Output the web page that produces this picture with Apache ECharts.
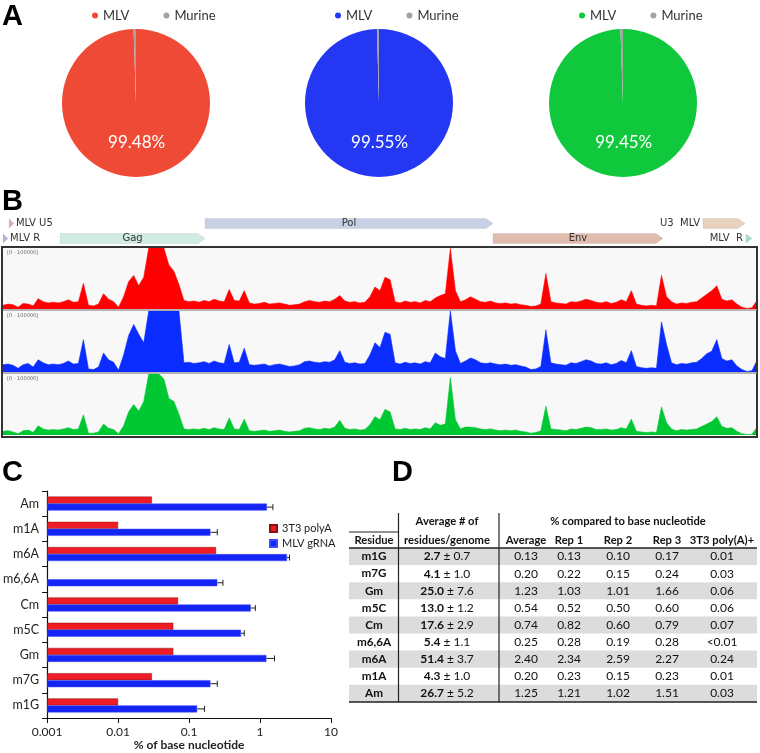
<!DOCTYPE html>
<html>
<head>
    <meta charset="utf-8">
    <script src="https://cdn.jsdelivr.net/npm/echarts@6/dist/echarts.min.js"></script>
    <style>
        html, body { margin: 0; padding: 0; background: #fff; }
    </style>
</head>
<body>
<div id="main" style="width: 760px;height:753px"></div>

<script type="text/javascript">
    // ---- A: read-mapping pies ----
    var pieMLV = [99.48, 99.55, 99.45];
    var pieMurine = [0.52, 0.45, 0.55];

    // ---- B: coverage tracks, % of 100000 scale, one value per 55 bp bin ----
    var binSize = 55;
    var covRed = [6,8,7,3,9,8,5,17,12,10,11,10,12,15,11,12,42,6,5,8,25,16,12,3,20,45,55,38,52,100,
        100,100,100,72,62,40,14,12,13,11,14,12,16,13,12,32,14,13,30,10,8,9,11,8,9,10,8,6,7,8,
        12,14,12,11,13,12,16,22,13,11,12,10,11,20,36,30,52,48,12,10,13,11,12,10,14,12,18,22,25,99,
        30,12,15,20,16,12,11,13,10,9,10,8,9,7,6,4,5,8,58,12,10,9,8,12,11,13,16,14,11,10,
        12,9,11,15,12,30,8,6,5,6,5,55,20,12,8,10,9,11,12,18,24,30,38,16,13,15,8,3,1,2,14];
    var covBlue = [12,13,11,6,12,14,8,20,15,12,13,12,14,18,13,14,53,5,4,8,31,20,16,3,28,60,78,62,48,100,
        100,100,100,100,100,100,15,16,14,15,17,14,18,15,14,45,15,16,39,12,11,12,13,10,12,13,11,9,10,12,
        17,18,16,15,17,16,20,35,16,14,15,13,14,28,48,40,65,62,15,13,16,14,15,13,17,15,31,25,22,100,
        35,14,18,23,20,15,14,15,13,12,13,11,12,10,8,4,5,9,69,15,13,12,11,15,14,17,20,18,14,13,
        15,12,14,19,15,35,9,7,6,7,6,82,45,15,12,14,13,15,16,22,30,34,53,22,18,20,10,4,1,2,19];
    var covGreen = [6,7,5,2,7,8,4,15,10,8,9,8,10,12,9,10,33,3,3,5,18,11,9,2,15,38,50,39,55,100,
        100,100,92,60,55,34,10,9,10,9,11,9,12,10,9,28,10,9,26,7,6,7,8,6,7,8,6,5,6,7,
        11,12,10,9,11,10,13,24,11,9,10,8,9,17,30,25,42,38,10,9,11,9,10,9,12,10,20,16,18,94,
        25,10,13,13,12,10,9,10,8,7,8,7,8,6,5,3,4,7,47,10,9,8,7,10,9,11,13,12,9,9,
        10,8,9,12,10,26,6,5,4,5,4,46,20,10,7,9,8,9,10,14,18,22,30,14,11,12,6,2,1,1,13];

    // genome features (bp)
    var geneNames = ['MLV R', 'MLV U5', 'Gag', 'Pol', 'Env', 'U3  MLV', 'MLV  R'];
    var geneStart = [0, 66, 624, 2210, 5361, 7659, 8129];
    var geneEnd = [55, 120, 2210, 5361, 7221, 8118, 8195];
    var geneRow = [1, 0, 1, 0, 1, 0, 1];

    // ---- C / D: modified nucleosides ----
    var residues = ['m1G', 'm7G', 'Gm', 'm5C', 'Cm', 'm6,6A', 'm6A', 'm1A', 'Am'];
    var perGenome = [2.7, 4.1, 25.0, 13.0, 17.6, 5.4, 51.4, 4.3, 26.7];
    var perGenomeSd = [0.7, 1.0, 7.6, 1.2, 2.9, 1.1, 3.7, 1.0, 5.2];
    var avgPct = [0.13, 0.20, 1.23, 0.54, 0.74, 0.25, 2.40, 0.20, 1.25];
    var rep1 = [0.13, 0.22, 1.03, 0.52, 0.82, 0.28, 2.34, 0.23, 1.21];
    var rep2 = [0.10, 0.15, 1.01, 0.50, 0.60, 0.19, 2.59, 0.15, 1.02];
    var rep3 = [0.17, 0.24, 1.66, 0.60, 0.79, 0.28, 2.27, 0.23, 1.51];
    var polyA = [0.01, 0.03, 0.06, 0.06, 0.07, null, 0.24, 0.01, 0.03];   // null = <0.01
    var errHigh = [0.165, 0.25, 1.6, 0.6, 0.86, 0.3, 2.6, 0.25, 1.52];
    var xTicks = [0.001, 0.01, 0.1, 1, 10];

    var pieColors = ['#ef4a36', '#2437f2', '#10c83c'];
    var murineColor = '#a3a3a3';
    var trackColors = ['#ff0000', '#0a2cff', '#00c832'];
    var geneColors = ['#c6aedb', '#e6a7cb', '#d0ebe0', '#c8d0e5', '#e1bbae', '#e9d2bd', '#a6dcc6'];
    var font = 'Lato';

    var chartDom = document.getElementById('main');
    var myChart = echarts.init(chartDom, null, { renderer: 'canvas' });
    var option;

    var pieCx = [136, 379, 623];
    var series = [];
    var legends = [];
    pieMLV.forEach(function (v, k) {
        series.push({
            type: 'pie',
            name: 'pie' + k,
            center: [pieCx[k], 103],
            radius: 74,
            startAngle: 90,
            silent: true,
            label: { show: false },
            labelLine: { show: false },
            data: [
                { name: 'MLV', value: v, itemStyle: { color: pieColors[k] },
                  label: { show: true, position: 'inside', color: '#fff', fontSize: 17,
                           fontFamily: font, formatter: function (p) { return p.value.toFixed(2) + '%'; } } },
                { name: 'Murine', value: pieMurine[k], itemStyle: { color: murineColor } }
            ]
        });
        legends.push({
            left: pieCx[k] - 49, top: 4,
            icon: 'circle', itemWidth: 6, itemHeight: 6, itemGap: 34,
            selectedMode: false,
            textStyle: { fontSize: 13, color: '#333', fontFamily: font },
            data: [{ name: 'MLV', itemStyle: { color: pieColors[k] } },
                   { name: 'Murine', itemStyle: { color: murineColor } }]
        });
    });

    // coverage grids
    var trackTop = [248, 311, 374];
    var grids = [{ left: 3, width: 754, top: 216, height: 30 }];
    var xAxes = [{ gridIndex: 0, type: 'value', min: 0, max: 150 * binSize, show: false }];
    var yAxes = [{ gridIndex: 0, type: 'category', data: ['r0', 'r1'], inverse: true, show: false }];
    var covs = [covRed, covBlue, covGreen];
    covs.forEach(function (arr, k) {
        grids.push({ left: 3, width: 754, top: trackTop[k], height: 61, show: true,
                     backgroundColor: '#f8f8f8', borderWidth: 0 });
        xAxes.push({ gridIndex: k + 1, type: 'value', min: 0, max: 150 * binSize, show: false });
        yAxes.push({ gridIndex: k + 1, type: 'value', min: 0, max: 100, show: false });
        series.push({
            type: 'line', xAxisIndex: k + 1, yAxisIndex: k + 1, showSymbol: false, silent: true,
            lineStyle: { width: 0.6, color: trackColors[k] },
            areaStyle: { color: trackColors[k], opacity: 1 },
            data: arr.map(function (v, i) { return [i * binSize, v]; })
        });
    });

    series.push({
        type: 'custom', xAxisIndex: 0, yAxisIndex: 0, silent: true,
        data: geneNames.map(function (n, i) { return [geneStart[i], geneEnd[i], geneRow[i], n]; }),
        renderItem: function (params, api) {
            var s = api.coord([api.value(0), api.value(2)]);
            var e = api.coord([api.value(1), api.value(2)]);
            var name = geneNames[params.dataIndex];
            var x0 = s[0], x1 = e[0], yc = s[1], h = 10;
            var w = x1 - x0, pts;
            if (w < 10) {
                pts = [[x0, yc - 4.5], [x1, yc], [x0, yc + 4.5]];
            } else {
                var tip = 7;
                pts = [[x0, yc - h / 2], [x1 - tip, yc - h / 2], [x1, yc], [x1 - tip, yc + h / 2], [x0, yc + h / 2]];
            }
            var kids = [{ type: 'polygon', shape: { points: pts },
                          style: { fill: geneColors[params.dataIndex], stroke: 'rgba(0,0,0,0.12)', lineWidth: 0.5 } }];
            var ts = { text: name, fontSize: 10, fontFamily: 'DejaVu Sans', fill: '#333', verticalAlign: 'middle' };
            if (w > 50) {
                ts.x = (x0 + x1) / 2; ts.y = yc; ts.align = 'center';
            } else if (x0 < 380) {
                ts.x = x1 + 2; ts.y = yc; ts.align = 'left';
            } else {
                ts.x = x0 - 3; ts.y = yc; ts.align = 'right';
            }
            kids.push({ type: 'text', style: ts });
            return { type: 'group', children: kids };
        }
    });

    // C: bar chart
    grids.push({ left: 47, top: 491, width: 284, height: 227 });
    xAxes.push({
        gridIndex: 4, type: 'log', logBase: 10, min: 0.001, max: 10, startValue: 0.001,
        axisLine: { show: true, lineStyle: { color: '#111', width: 1.2 } },
        axisTick: { show: true, length: 5, lineStyle: { color: '#111' } },
        splitLine: { show: false }, minorTick: { show: false },
        axisLabel: { fontSize: 12, color: '#222', fontFamily: font, margin: 8,
                     formatter: function (v) {
                         var best = xTicks[0];
                         xTicks.forEach(function (t) { if (Math.abs(Math.log10(t) - Math.log10(v)) < 0.01) best = t; });
                         return String(best);
                     } },
        name: '% of base nucleotide', nameLocation: 'middle', nameGap: 21,
        nameTextStyle: { fontSize: 12, fontWeight: 'bold', color: '#222', fontFamily: font }
    });
    yAxes.push({
        gridIndex: 4, type: 'category', data: residues,
        axisLine: { show: true, lineStyle: { color: '#111', width: 1.2 } },
        axisTick: { show: true, length: 5, interval: 0, lineStyle: { color: '#111' } },
        axisLabel: { fontSize: 12.5, color: '#222', fontFamily: font, margin: 8 }
    });
    series.push({
        name: '3T3 polyA', type: 'bar', xAxisIndex: 4, yAxisIndex: 4,
        barWidth: 7, barGap: '0%',
        itemStyle: { color: '#ee1c24', borderColor: '#8a1010', borderWidth: 0.5 },
        data: polyA.map(function (v) { return v == null ? '-' : v; })
    });
    series.push({
        name: 'MLV gRNA', type: 'bar', xAxisIndex: 4, yAxisIndex: 4,
        barWidth: 7, barGap: '0%',
        itemStyle: { color: '#1424f4', borderColor: '#3b4bff', borderWidth: 0.5 },
        data: avgPct
    });
    series.push({
        type: 'custom', xAxisIndex: 4, yAxisIndex: 4, silent: true, z: 5,
        data: avgPct.map(function (v, i) { return [v, i, errHigh[i]]; }),
        renderItem: function (params, api) {
            var a = api.coord([api.value(0), api.value(1)]);
            var b = api.coord([api.value(2), api.value(1)]);
            var y = a[1] + 3.5;
            var st = { stroke: '#222', lineWidth: 1 };
            return { type: 'group', children: [
                { type: 'line', shape: { x1: a[0], y1: y, x2: b[0], y2: y }, style: st },
                { type: 'line', shape: { x1: b[0], y1: y - 3, x2: b[0], y2: y + 3 }, style: st }
            ] };
        }
    });
    legends.push({
        left: 264, top: 518, orient: 'vertical', icon: 'rect', itemWidth: 7, itemHeight: 7, itemGap: 4,
        selectedMode: false,
        textStyle: { fontSize: 11, color: '#222', fontFamily: font },
        data: ['3T3 polyA', 'MLV gRNA']
    });

    // graphics: panel letters, track frame, table
    var g = [];
    [['A', 2, 2], ['B', 2, 187], ['C', 2, 458], ['D', 392, 458]].forEach(function (L) {
        g.push({ type: 'text', left: L[1], top: L[2],
                 style: { text: L[0], fontSize: 29, fontWeight: 'bold', fontFamily: 'Liberation Sans', fill: '#000' } });
    });
    g.push({ type: 'rect', shape: { x: 2, y: 247, width: 755, height: 190 }, z: 100,
             style: { fill: 'none', stroke: '#333', lineWidth: 2 } });
    [310, 373].forEach(function (y) {
        g.push({ type: 'line', shape: { x1: 3, y1: y, x2: 757, y2: y }, z: 100, style: { stroke: '#9a9a9a', lineWidth: 1.5 } });
    });
    trackTop.forEach(function (t) {
        g.push({ type: 'text', x: 7, y: t + 2, z: 100,
                 style: { text: '[0 - 100000]', fontSize: 5, fill: '#666', fontFamily: 'DejaVu Sans' } });
    });

    // table
    var rowTop = 548, rowH = 17.1, tL = 349, tR = 757;
    var colX = [374, 447, 526, 569, 618, 667, 722];
    var cellFs = 12, hdrFs = 11.2;
    residues.forEach(function (r, i) {
        var y0 = rowTop + i * rowH, yc = y0 + rowH / 2;
        if (i % 2 === 0) {
            g.push({ type: 'rect', shape: { x: tL, y: y0, width: tR - tL, height: rowH }, z: 1, style: { fill: '#dcdcdc' } });
        }
        var cells = [r, null, avgPct[i].toFixed(2), rep1[i].toFixed(2), rep2[i].toFixed(2), rep3[i].toFixed(2),
                     polyA[i] == null ? '<0.01' : polyA[i].toFixed(2)];
        cells.forEach(function (c, j) {
            if (j === 1) {
                g.push({ type: 'text', x: colX[j], y: yc, z: 3,
                         style: { text: '{b|' + perGenome[i].toFixed(1) + '} \u00b1 ' + perGenomeSd[i].toFixed(1),
                                  align: 'center', verticalAlign: 'middle', fontSize: cellFs, fontFamily: font, fill: '#111',
                                  rich: { b: { fontWeight: 'bold', fontSize: cellFs, fontFamily: font, fill: '#111' } } } });
            } else {
                g.push({ type: 'text', x: colX[j], y: yc, z: 3,
                         style: { text: c, align: 'center', verticalAlign: 'middle',
                                  fontSize: j === 0 ? hdrFs + 0.5 : cellFs, fontFamily: font,
                                  fill: '#111', fontWeight: j === 0 ? 'bold' : 'normal' } });
            }
        });
    });
    var hdr = [['Average # of', colX[1], 521], ['% compared to base nucleotide', 628, 521],
               ['Residue', colX[0], 540], ['residues/genome', colX[1], 540], ['Average', colX[2], 540],
               ['Rep 1', colX[3], 540], ['Rep 2', colX[4], 540], ['Rep 3', colX[5], 540], ['3T3 poly(A)+', colX[6], 540]];
    hdr.forEach(function (h) {
        g.push({ type: 'text', x: h[1], y: h[2], z: 3,
                 style: { text: h[0], align: 'center', verticalAlign: 'middle', fontSize: hdrFs, fontWeight: 'bold',
                          fontFamily: font, fill: '#111' } });
    });
    var tableBottom = rowTop + residues.length * rowH;
    g.push({ type: 'line', z: 4, shape: { x1: tL, y1: 532, x2: 398.5, y2: 532 }, style: { stroke: '#222', lineWidth: 1 } });
    g.push({ type: 'line', z: 4, shape: { x1: tL, y1: rowTop, x2: tR, y2: rowTop }, style: { stroke: '#222', lineWidth: 1.5 } });
    g.push({ type: 'line', z: 4, shape: { x1: tL, y1: tableBottom, x2: tR, y2: tableBottom }, style: { stroke: '#222', lineWidth: 1.5 } });
    [398.5, 499].forEach(function (x) {
        g.push({ type: 'line', z: 4, shape: { x1: x, y1: 513, x2: x, y2: tableBottom }, style: { stroke: '#222', lineWidth: 1.2 } });
    });

    option = {
        animation: false,
        backgroundColor: '#fff',
        textStyle: { fontFamily: font },
        legend: legends,
        grid: grids,
        xAxis: xAxes,
        yAxis: yAxes,
        series: series,
        graphic: g
    };

    option && myChart.setOption(option);
</script>
</body>
</html>
